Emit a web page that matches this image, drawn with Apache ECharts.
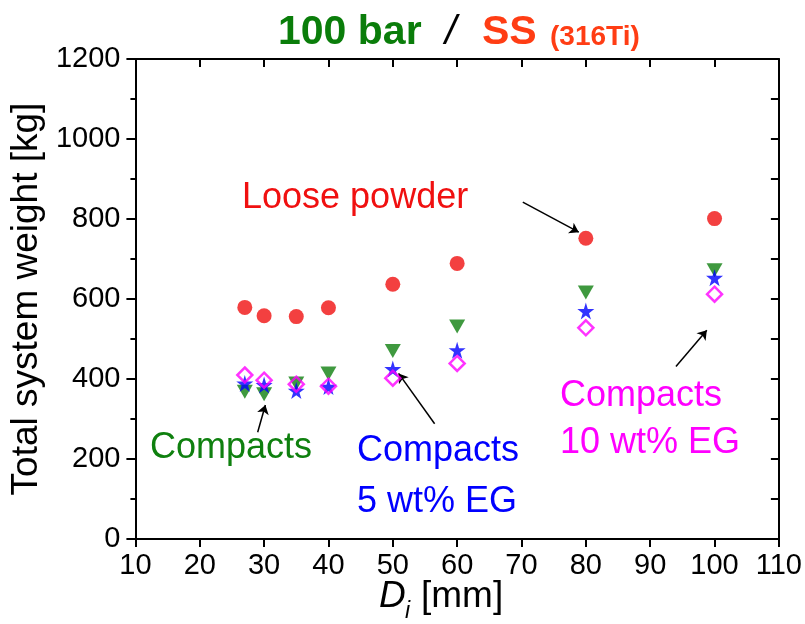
<!doctype html>
<html lang="en">
<head>
    <meta charset="UTF-8">
    <script src="https://cdn.jsdelivr.net/npm/echarts@6/dist/echarts.min.js"></script>
    <title>Total system weight</title>
    <style>
        html, body { margin: 0; padding: 0; background: #fff; }
    </style>
</head>
<body>
<div id="main" style="width: 805px;height:624px;"></div>
<script>
    // inner diameter D_i [mm]
    var di = [27, 30, 35, 40, 50, 60, 80, 100];
    // total system weight [kg]
    var loosePowder = [579, 558, 556, 578, 637, 689, 752, 801];
    var compacts = [368, 362, 389, 414, 470, 531, 616, 672];
    var compacts5EG = [389, 385, 371, 381, 425, 472, 570, 653];
    var compacts10EG = [410, 397, 387, 382, 402, 439, 528, 612];

    // annotation arrows (data coords: [start, end])
    var arrowLoose = [[70.2, 842], [78.9, 767]];
    var arrowCompacts = [[29.0, 267], [30.2, 335]];
    var arrow5EG = [[56.5, 288], [50.9, 414]];
    var arrow10EG = [[94.0, 431], [98.8, 522]];

    var FONT = '"Liberation Sans", Arial, sans-serif';
    var STAR = 'path://M50,0 L61,35 L98,35 L68,57 L79,91 L50,70 L21,91 L32,57 L2,35 L39,35 Z';

    function pairs(xs, ys) {
        var out = [];
        for (var i = 0; i < xs.length; i++) {
            out.push([xs[i], ys[i]]);
        }
        return out;
    }

    var myChart = echarts.init(document.getElementById('main'));

    var option = {
        backgroundColor: '#fff',
        animation: false,
        grid: {
            left: 132,
            right: 26,
            top: 59,
            bottom: 85,
            containLabel: false
        },
        xAxis: [{
            type: 'value',
            min: 10,
            max: 110,
            interval: 10,
            position: 'bottom',
            axisLine: {onZero: false, lineStyle: {color: '#000', width: 2}},
            axisTick: {inside: false, length: 8, lineStyle: {color: '#000', width: 2}},
            axisLabel: {color: '#000', fontSize: 29, fontFamily: FONT, margin: 12},
            splitLine: {show: false}
        }, {
            type: 'value',
            min: 10,
            max: 110,
            interval: 10,
            position: 'top',
            axisLine: {onZero: false, lineStyle: {color: '#000', width: 2}},
            axisTick: {inside: true, length: 8, lineStyle: {color: '#000', width: 2}},
            axisLabel: {show: false},
            splitLine: {show: false}
        }],
        yAxis: [{
            type: 'value',
            min: 0,
            max: 1200,
            interval: 200,
            position: 'left',
            name: 'Total system weight [kg]',
            nameLocation: 'middle',
            nameRotate: 90,
            nameGap: 86,
            nameTextStyle: {color: '#000', fontSize: 37, fontFamily: FONT},
            axisLine: {onZero: false, lineStyle: {color: '#000', width: 2}},
            axisTick: {inside: false, length: 9, lineStyle: {color: '#000', width: 2}},
            minorTick: {show: true, splitNumber: 2, length: 5, lineStyle: {color: '#000', width: 2}},
            axisLabel: {
                color: '#000', fontSize: 29, fontFamily: FONT, margin: 15,
                formatter: function (v) { return String(v); }
            },
            splitLine: {show: false},
            minorSplitLine: {show: false}
        }, {
            type: 'value',
            min: 0,
            max: 1200,
            interval: 100,
            position: 'right',
            axisLine: {onZero: false, lineStyle: {color: '#000', width: 2}},
            axisTick: {inside: true, length: 8, lineStyle: {color: '#000', width: 2}},
            axisLabel: {show: false},
            splitLine: {show: false}
        }],
        series: [{
            name: 'Compacts',
            type: 'scatter',
            symbol: 'triangle',
            symbolRotate: 180,
            symbolSize: [16, 14],
            itemStyle: {color: '#0f800f'},
            data: pairs(di, compacts)
        }, {
            name: 'Compacts 5 wt% EG',
            type: 'scatter',
            symbol: STAR,
            symbolSize: 17,
            itemStyle: {color: '#0000ff'},
            data: pairs(di, compacts5EG)
        }, {
            name: 'Compacts 10 wt% EG',
            type: 'scatter',
            symbol: 'diamond',
            symbolSize: 15,
            itemStyle: {color: 'rgba(255,255,255,0)', borderColor: '#ff00ff', borderWidth: 2.5},
            data: pairs(di, compacts10EG)
        }, {
            name: 'Loose powder',
            type: 'scatter',
            symbol: 'circle',
            symbolSize: 15,
            itemStyle: {color: '#f01010'},
            data: pairs(di, loosePowder)
        }, {
            name: 'arrows',
            type: 'lines',
            coordinateSystem: 'cartesian2d',
            symbol: ['none', 'arrow'],
            symbolSize: 9,
            lineStyle: {color: '#000', width: 1.5, opacity: 1},
            data: [
                {coords: arrowLoose},
                {coords: arrowCompacts},
                {coords: arrow5EG},
                {coords: arrow10EG}
            ]
        }],
        graphic: [
            // title
            {type: 'text', left: 278, top: 12, style: {text: '100 bar', fill: '#0a7d0a', font: 'bold 41px ' + FONT}},
            {type: 'text', left: 445, top: 12, style: {text: '/', fill: '#000', font: 'italic 41px ' + FONT}},
            {type: 'text', left: 482, top: 12, style: {text: 'SS', fill: '#ff3d14', font: 'bold 41px ' + FONT}},
            {type: 'text', left: 550, top: 23, style: {text: '(316Ti)', fill: '#ff3d14', font: 'bold 28px ' + FONT}},
            // annotations
            {type: 'text', left: 242, top: 180, style: {text: 'Loose powder', fill: '#f01010', font: '36px ' + FONT}},
            {type: 'text', left: 150, top: 430, style: {text: 'Compacts', fill: '#0f800f', font: '36px ' + FONT}},
            {type: 'text', left: 357, top: 433, style: {text: 'Compacts', fill: '#0000ff', font: '36px ' + FONT}},
            {type: 'text', left: 357, top: 484, style: {text: '5 wt% EG', fill: '#0000ff', font: '36px ' + FONT}},
            {type: 'text', left: 560, top: 378, style: {text: 'Compacts', fill: '#ff00ff', font: '36px ' + FONT}},
            {type: 'text', left: 560, top: 425, style: {text: '10 wt% EG', fill: '#ff00ff', font: '36px ' + FONT}},
            // x axis title
            {type: 'text', left: 379, top: 578, style: {text: 'D', fill: '#000', font: 'italic 37px ' + FONT}},
            {type: 'text', left: 405, top: 600, style: {text: 'i', fill: '#000', font: 'italic 23px ' + FONT}},
            {type: 'text', left: 421, top: 578, style: {text: '[mm]', fill: '#000', font: '37px ' + FONT}}
        ]
    };

    myChart.setOption(option);
</script>
</body>
</html>
